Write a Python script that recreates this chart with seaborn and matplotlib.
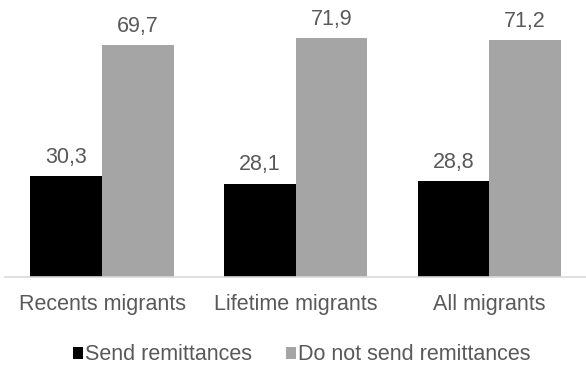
import matplotlib
matplotlib.use("Agg")
import matplotlib.pyplot as plt
from matplotlib.patches import Patch
import pandas as pd
import seaborn as sns

categories = ["Recents migrants", "Lifetime migrants", "All migrants"]
series = ["Send remittances", "Do not send remittances"]
send_values = [30.3, 28.1, 28.8]
not_send_values = [69.7, 71.9, 71.2]
colors = ["#000000", "#A5A5A5"]
text_color = "#595959"

sns.set_theme(style="white")
plt.rcParams["font.family"] = ["Liberation Sans", "DejaVu Sans"]

df = pd.DataFrame({
    "category": categories * 2,
    "series": [series[0]] * 3 + [series[1]] * 3,
    "value": send_values + not_send_values,
})

fig = plt.figure(figsize=(5.86, 3.67), dpi=100)
ax = fig.add_axes([0.009, 90 / 367, 0.991, 266 / 367])

sns.barplot(data=df, x="category", y="value", hue="series",
            order=categories, hue_order=series, palette=colors,
            width=0.74, gap=0, saturation=1, legend=False, ax=ax,
            edgecolor="none", linewidth=0, errorbar=None)

for container in ax.containers:
    ax.bar_label(container, labels=[f"{v:.1f}".replace(".", ",") for v in container.datavalues],
                 padding=6, fontsize=15.5, color=text_color)

ax.set_ylim(0, 80)
ax.set_xlim(-0.5, 2.5)
ax.set_xlabel("")
ax.set_ylabel("")
ax.set_yticks([])
ax.tick_params(axis="x", length=0, pad=12, labelsize=15.5, labelcolor=text_color)
for side in ["top", "left", "right"]:
    ax.spines[side].set_visible(False)
ax.spines["bottom"].set_color("#D9D9D9")
ax.spines["bottom"].set_linewidth(1.2)

handles = [Patch(facecolor=c, edgecolor="none", label=s) for c, s in zip(colors, series)]
fig.legend(handles=handles, loc="center", bbox_to_anchor=(0.515, 12 / 367),
           ncol=2, frameon=False, fontsize=15.5, labelcolor=text_color,
           handlelength=0.45, handleheight=0.45, handletextpad=0.1,
           columnspacing=1.6)

fig.savefig("out.png", dpi=100)
